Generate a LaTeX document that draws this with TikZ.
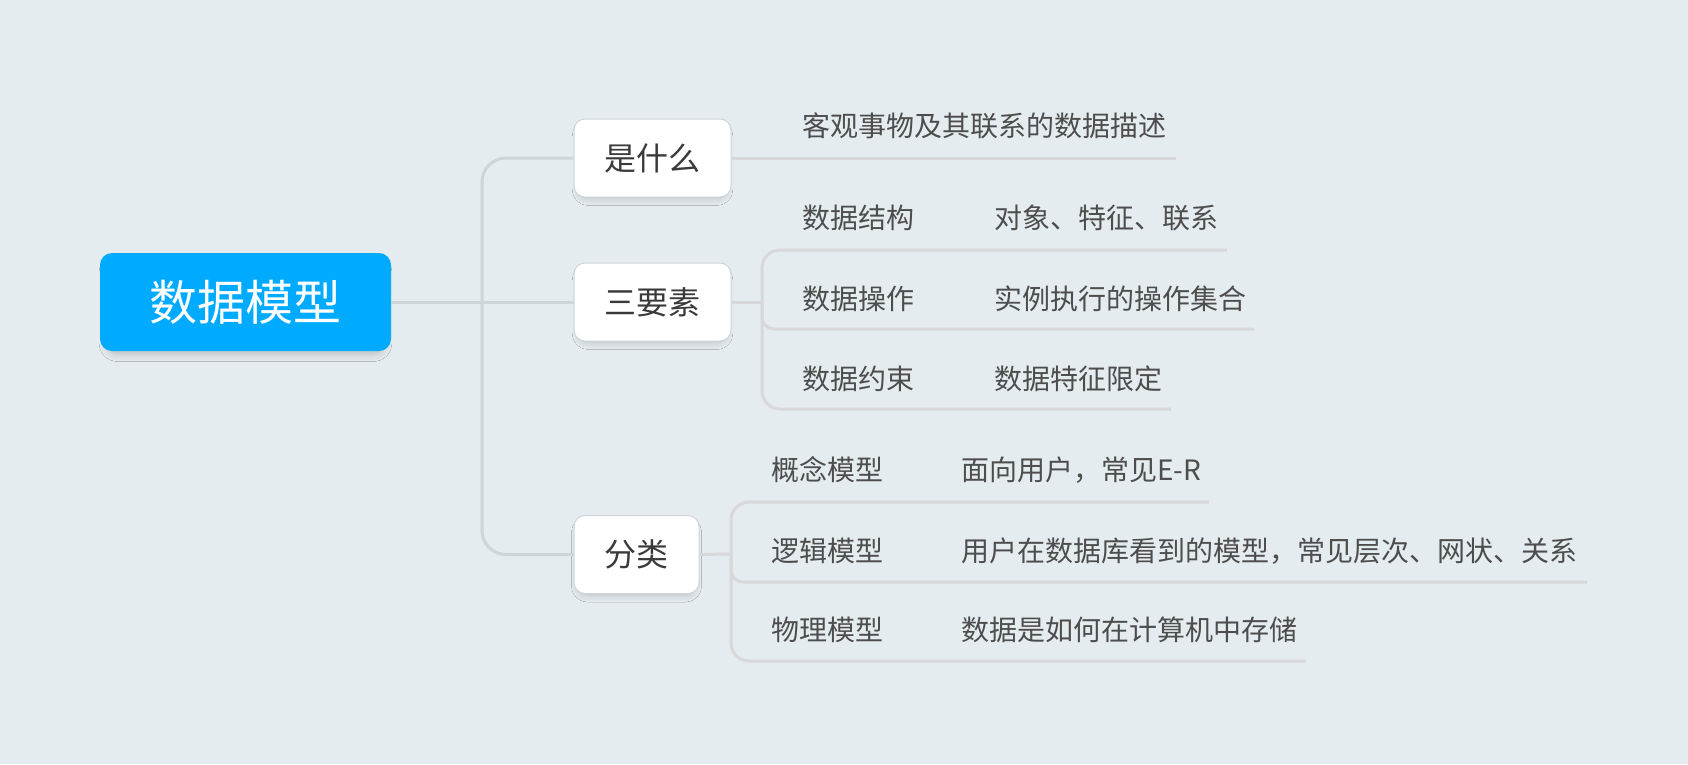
\documentclass[tikz,border=0pt]{standalone}
\usepackage{fontspec}
\setmainfont{Noto Sans CJK SC}
\usetikzlibrary{shadows.blur}
\definecolor{bg}{HTML}{E5ECEF}
\definecolor{trunk}{HTML}{CDD5D9}
\definecolor{branch}{HTML}{D8D8DA}
\definecolor{rootblue}{HTML}{00AAFF}
\definecolor{txt}{HTML}{4D4D4D}
\definecolor{boxtxt}{HTML}{3A3A3A}
\tikzset{
  rootbox/.style={fill=rootblue, rounded corners=12pt, minimum width=291pt, minimum height=98pt,
    text=white, inner sep=0pt, font=\fontsize{48pt}{56pt}\selectfont,
    blur shadow={shadow xshift=0pt, shadow yshift=-6pt, shadow blur radius=7pt, shadow opacity=18, shadow scale=0.96}},
  topicbox/.style={fill=white, draw=trunk, line width=1pt, rounded corners=11pt, minimum height=78pt,
    text=boxtxt, inner sep=0pt, font=\fontsize{32pt}{38pt}\selectfont,
    blur shadow={shadow xshift=0pt, shadow yshift=-5pt, shadow blur radius=6pt, shadow opacity=16, shadow scale=0.95}},
  trunkline/.style={draw=trunk, line width=3pt, rounded corners=24pt},
  subline/.style={draw=branch, line width=3pt, rounded corners=18pt},
  shortline/.style={draw=branch, line width=3pt, rounded corners=12pt},
  leaf/.style={anchor=west, inner sep=0pt, text=txt, font=\fontsize{28pt}{33pt}\selectfont},
}
\begin{document}
\begin{tikzpicture}[x=1pt,y=-1pt]
\fill[bg] (0,0) rectangle (1688,764);
\useasboundingbox (0,0) rectangle (1688,764);

% main nodes
\node[rootbox] (root) at (245.5,302) {\raisebox{3pt}{数据模型}};
\node[topicbox, minimum width=157pt] (t1) at (652.5,158) {是什么};
\node[topicbox, minimum width=157pt] (t2) at (652.5,302) {三要素};
\node[topicbox, minimum width=125pt] (t3) at (636.5,554.5) {分类};

% trunk
\coordinate (j0) at (482,302);
\draw[trunkline] (root.east) -- (j0);
\draw[trunkline] (j0) |- (t1.west);
\draw[trunkline] (j0) -- (t2.west);
\draw[trunkline] (j0) |- (t3.west);

% 是什么
\coordinate (e1) at (1176,158);
\draw[subline] (t1.east) -- (e1);
\node[leaf] (w1) at (802,126) {客观事物及其联系的数据描述};

% 三要素
\coordinate (j1) at (762,302);
\coordinate (l1) at (1227,250);
\coordinate (l2) at (1254,329);
\coordinate (l3) at (1171,409);
\draw[subline] (t2.east) -- (j1);
\draw[subline] (j1) |- (l1);
\draw[shortline] (j1) |- (l2);
\draw[subline] (j1) |- (l3);
\node[leaf] (a1) at (802,218) {数据结构};
\node[leaf] (b1) at (994,218) {对象、特征、联系};
\node[leaf] (a2) at (802,299) {数据操作};
\node[leaf] (b2) at (994,299) {实例执行的操作集合};
\node[leaf] (a3) at (802,379) {数据约束};
\node[leaf] (b3) at (994,379) {数据特征限定};

% 分类
\coordinate (j2) at (731,554);
\coordinate (m1) at (1209,502);
\coordinate (m2) at (1587,582);
\coordinate (m3) at (1306,661);
\draw[subline] (t3.east) -- (j2);
\draw[subline] (j2) |- (m1);
\draw[shortline] (j2) |- (m2);
\draw[subline] (j2) |- (m3);
\node[leaf] (c1) at (771,470) {概念模型};
\node[leaf] (d1) at (961,470) {面向用户，常见E-R};
\node[leaf] (c2) at (771,551) {逻辑模型};
\node[leaf] (d2) at (961,551) {用户在数据库看到的模型，常见层次、网状、关系};
\node[leaf] (c3) at (771,630) {物理模型};
\node[leaf] (d3) at (961,630) {数据是如何在计算机中存储};
\end{tikzpicture}
\end{document}
